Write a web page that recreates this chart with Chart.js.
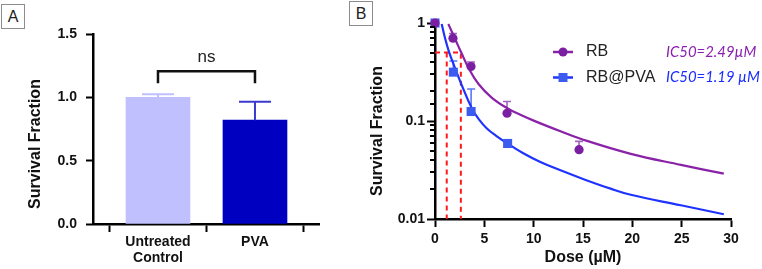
<!DOCTYPE html>
<html><head><meta charset="utf-8">
<script src="https://cdn.jsdelivr.net/npm/chart.js@4.4.1/dist/chart.umd.min.js"></script>
<style>
html,body{margin:0;padding:0;background:#fff;width:762px;height:269px;overflow:hidden;}
#wa{position:absolute;left:0;top:0;width:330px;height:269px;}
#wb{position:absolute;left:330px;top:0;width:432px;height:269px;}
.box{position:absolute;width:22px;height:23px;border:1px solid #8c8c8c;font:16px "Liberation Sans",Arial,sans-serif;color:#222;text-align:center;line-height:23px;background:#fff;}
</style></head><body>
<div id="wa"><canvas id="ca"></canvas></div>
<div id="wb"><canvas id="cb"></canvas></div>
<div class="box" style="left:1px;top:4px;">A</div>
<div class="box" style="left:349px;top:1px;">B</div>
<script>
// ---------- Panel A data ----------
const groups = ['Untreated Control', 'PVA'];
const groupMeans = [1.0, 0.82];
const groupErrors = [0.025, 0.145];
const yTicksA = [0, 0.5, 1.0, 1.5];
const sigText = 'ns';
const sigLevel = 1.205;

// ---------- Panel B data ----------
const rbDose = [0, 1.82, 3.65, 7.3, 14.6];
const rbSurvival = [1, 0.70, 0.36, 0.12, 0.051];
const rbError = [0, 0.08, 0.04, 0.038, 0.011];
const pvaDose = [0, 1.86, 3.66, 7.36];
const pvaSurvival = [1, 0.315, 0.125, 0.059];
const pvaError = [0, 0.095, 0.087, 0];
const rbFitDose = [1.35, 1.73, 2.14, 2.65, 3.39, 4.41, 5.77, 7.46, 8.65, 10.0, 12.72, 14.75, 19.84, 24.92, 29.27];
const rbFit =     [0.977, 0.804, 0.651, 0.502, 0.349, 0.2385, 0.1725, 0.1325, 0.1157, 0.1009, 0.0785, 0.0658, 0.0462, 0.0357, 0.029];
const pvaFitDose = [0.68, 1.02, 1.42, 2.04, 2.72, 3.73, 4.45, 5.26, 6.2, 7.36, 8.9, 10.68, 12.72, 15.2, 17.8, 19.84, 24.92, 29.27];
const pvaFit =     [0.977, 0.698, 0.508, 0.345, 0.2313, 0.1348, 0.104, 0.0839, 0.0706, 0.0588, 0.0472, 0.0382, 0.0314, 0.0252, 0.0204, 0.01766, 0.0138, 0.01117];
const ic50Lines = [1.19, 2.62];
const halfLevel = 0.5;
const seriesNames = ['RB', 'RB@PVA'];
const ic50Labels = ['IC50=2.49µM', 'IC50=1.19 µM'];
const xTicksB = [0, 5, 10, 15, 20, 25, 30];
const yTicksB = [0.01, 0.1, 1];

const FAM = '"Liberation Sans", Arial, sans-serif';
const PURPLE = '#7b1fa2', PURPLE_LINE = '#8a22a8', PURPLE_ERR = '#a064c0';
const BLUE = '#3c5cf0', BLUE_LINE = '#1f33ff', BLUE_ERR = '#5a78f5';

function yTitlePlugin(text, dx, dy) {
  return { id: 'ytitle', afterDraw(chart) {
    const {ctx, chartArea: a} = chart;
    ctx.save();
    ctx.translate(a.left - dx, (a.top + a.bottom) / 2 + dy);
    ctx.rotate(-Math.PI / 2);
    ctx.font = 'bold 16px ' + FAM;
    ctx.fillStyle = '#111';
    ctx.textAlign = 'center';
    ctx.textBaseline = 'middle';
    ctx.fillText(text, 0, 0);
    ctx.restore();
  }};
}

// ---------- Chart A ----------
const errA = { id: 'errA', afterDatasetsDraw(chart) {
  const {ctx, scales: {x, y}} = chart;
  const cols = ['#c0c0ff', '#3a3ad0'];
  ctx.save();
  ctx.lineWidth = 2;
  groupMeans.forEach((m, i) => {
    const px = x.getPixelForValue(i);
    const y0 = y.getPixelForValue(m), y1 = y.getPixelForValue(m + groupErrors[i]);
    ctx.strokeStyle = cols[i];
    ctx.beginPath();
    ctx.moveTo(px, y0); ctx.lineTo(px, y1);
    ctx.moveTo(px - 16, y1); ctx.lineTo(px + 16, y1);
    ctx.stroke();
  });
  ctx.restore();
}};
const bracket = { id: 'bracket', afterDraw(chart) {
  const {ctx, scales: {x, y}} = chart;
  const x0 = x.getPixelForValue(0), x1 = x.getPixelForValue(1);
  const yb = y.getPixelForValue(sigLevel);
  ctx.save();
  ctx.strokeStyle = '#111'; ctx.lineWidth = 2.5;
  ctx.beginPath();
  ctx.moveTo(x0, yb + 12); ctx.lineTo(x0, yb); ctx.lineTo(x1, yb); ctx.lineTo(x1, yb + 12);
  ctx.stroke();
  ctx.font = '17px ' + FAM; ctx.fillStyle = '#222';
  ctx.textAlign = 'center'; ctx.textBaseline = 'middle';
  ctx.fillText(sigText, (x0 + x1) / 2, yb - 14);
  ctx.restore();
}};

new Chart(document.getElementById('ca'), {
  type: 'bar',
  data: { datasets: [{
    data: groups.map((g, i) => ({x: i, y: groupMeans[i]})),
    backgroundColor: ['#c0c0ff', '#0000c0'],
    barThickness: 64, borderWidth: 0
  }]},
  options: {
    responsive: true, maintainAspectRatio: false, animation: false,
    layout: { padding: { top: 34, right: 11, left: 0, bottom: 0 } },
    plugins: { legend: { display: false }, tooltip: { enabled: false } },
    scales: {
      x: {
        type: 'linear', min: -0.67, max: 1.66, offset: false,
        afterBuildTicks: s => { s.ticks = groups.map((g, i) => ({value: i})); },
        afterFit: s => { s.height = 45; },
        grid: { drawOnChartArea: false, tickLength: 8, tickColor: '#000', tickWidth: 2 },
        border: { color: '#000', width: 2.5 },
        ticks: { autoSkip: false, maxRotation: 0, color: '#111', padding: 2,
          font: { family: FAM, size: 14, weight: 'bold', lineHeight: 1.15 },
          callback: v => groups[v] !== undefined ? groups[v].split(' ') : '' }
      },
      y: {
        min: 0, max: 1.5,
        afterBuildTicks: s => { s.ticks = yTicksA.map(v => ({value: v})); },
        afterFit: s => { s.width = 93; },
        grid: { drawOnChartArea: false, tickLength: 7, tickColor: '#000', tickWidth: 2 },
        border: { color: '#000', width: 2.5 },
        ticks: { padding: 9, color: '#111', font: { family: FAM, size: 14, weight: 'bold' },
          callback: v => Number(v).toFixed(1) }
      }
    }
  },
  plugins: [errA, bracket, yTitlePlugin('Survival Fraction', 57, 15)]
});

// ---------- Chart B ----------
const isMajor = v => yTicksB.some(t => Math.abs(Math.log10(v) - Math.log10(t)) < 1e-6);
const errB = { id: 'errB', beforeDatasetsDraw(chart) {
  const {ctx, scales: {x, y}} = chart;
  const sets = [[rbDose, rbSurvival, rbError, PURPLE_ERR], [pvaDose, pvaSurvival, pvaError, BLUE_ERR]];
  ctx.save(); ctx.lineWidth = 1.6;
  sets.forEach(([xs, ys, es, col]) => {
    ctx.strokeStyle = col;
    xs.forEach((d, i) => {
      if (!es[i]) return;
      const px = x.getPixelForValue(d);
      const y0 = y.getPixelForValue(ys[i]), y1 = y.getPixelForValue(ys[i] + es[i]);
      ctx.beginPath();
      ctx.moveTo(px, y0); ctx.lineTo(px, y1);
      ctx.moveTo(px - 4, y1); ctx.lineTo(px + 4, y1);
      ctx.stroke();
    });
  });
  ctx.restore();
}};
const minorTicks = { id: 'minorTicks', afterDraw(chart) {
  const {ctx, scales: {y}} = chart;
  ctx.save(); ctx.strokeStyle = '#000'; ctx.lineWidth = 2;
  y.ticks.forEach(t => {
    if (isMajor(t.value)) return;
    const py = Math.round(y.getPixelForValue(t.value));
    ctx.beginPath(); ctx.moveTo(y.right - 5, py); ctx.lineTo(y.right, py); ctx.stroke();
  });
  ctx.restore();
}};
const legendB = { id: 'legendB', afterDraw(chart) {
  const {ctx, chartArea: a} = chart;
  const items = [[PURPLE_LINE, PURPLE, 'circle'], [BLUE_LINE, BLUE, 'rect']];
  ctx.save();
  const icFam = 'Lato, "Open Sans", sans-serif';
  ctx.font = 'italic 16px ' + icFam;
  const wMax = Math.max(...ic50Labels.map(s => ctx.measureText(s).width));
  const icSize = Math.min(16, 16 * 94 / wMax);
  items.forEach(([lc, mc, shape], i) => {
    const yy = a.top + 29 + i * 25.5;
    const lx = a.left + 118;
    ctx.strokeStyle = lc; ctx.lineWidth = 2.5;
    ctx.beginPath(); ctx.moveTo(lx, yy); ctx.lineTo(lx + 20, yy); ctx.stroke();
    ctx.fillStyle = mc;
    ctx.beginPath();
    if (shape === 'circle') ctx.arc(lx + 10, yy, 4.5, 0, Math.PI * 2); else ctx.rect(lx + 5.5, yy - 4.5, 9, 9);
    ctx.fill();
    ctx.fillStyle = '#222'; ctx.font = '16px ' + FAM;
    ctx.textAlign = 'left'; ctx.textBaseline = 'middle';
    ctx.fillText(seriesNames[i], lx + 33, yy);
    ctx.fillStyle = i === 0 ? '#8a1fb0' : '#1a2cff';
    ctx.font = 'italic ' + icSize.toFixed(2) + 'px ' + icFam;
    ctx.fillText(ic50Labels[i], lx + 113, yy);
  });
  ctx.restore();
}};

const pts = (xs, ys) => xs.map((d, i) => ({x: d, y: ys[i]}));
new Chart(document.getElementById('cb'), {
  type: 'scatter',
  data: { datasets: [
    { data: pts(rbDose, rbSurvival), pointStyle: 'circle', pointRadius: 4.6, backgroundColor: PURPLE, borderWidth: 0, showLine: false, clip: false },
    { data: pts(pvaDose, pvaSurvival), pointStyle: 'rect', pointRadius: 6.4, backgroundColor: BLUE, borderWidth: 0, showLine: false, clip: false },
    { data: pts(rbFitDose, rbFit), showLine: true, pointRadius: 0, borderColor: PURPLE_LINE, borderWidth: 2.2, tension: 0.4, fill: false },
    { data: pts(pvaFitDose, pvaFit), showLine: true, pointRadius: 0, borderColor: BLUE_LINE, borderWidth: 2.2, tension: 0.4, fill: false },
    { data: [{x: 0, y: halfLevel}, {x: ic50Lines[1], y: halfLevel}, {x: ic50Lines[1], y: yTicksB[0]}], showLine: true, pointRadius: 0, borderColor: '#ff1a1a', borderWidth: 2, borderDash: [5, 4], fill: false },
    { data: [{x: ic50Lines[0], y: halfLevel}, {x: ic50Lines[0], y: yTicksB[0]}], showLine: true, pointRadius: 0, borderColor: '#ff1a1a', borderWidth: 2, borderDash: [5, 4], fill: false }
  ]},
  options: {
    responsive: true, maintainAspectRatio: false, animation: false,
    layout: { padding: { top: 23, right: 31, left: 0, bottom: 0 } },
    plugins: { legend: { display: false }, tooltip: { enabled: false } },
    scales: {
      x: {
        type: 'linear', min: 0, max: 30,
        afterBuildTicks: s => { s.ticks = xTicksB.map(v => ({value: v})); },
        afterFit: s => { s.height = 50; },
        grid: { drawOnChartArea: false, tickLength: 8, tickColor: '#000', tickWidth: 2 },
        border: { color: '#000', width: 2.5 },
        ticks: { color: '#111', padding: 4, maxRotation: 0, font: { family: FAM, size: 14, weight: 'bold' } },
        title: { display: true, text: 'Dose (µM)', color: '#111', font: { family: FAM, size: 16, weight: 'bold' }, padding: { top: 0, bottom: 2 } }
      },
      y: {
        type: 'logarithmic', min: 0.01, max: 1,
        afterFit: s => { s.width = 105; },
        grid: { drawOnChartArea: false, tickLength: 8, tickWidth: 2,
          tickColor: c => (c.tick && isMajor(c.tick.value)) ? '#000' : 'rgba(0,0,0,0)' },
        border: { color: '#000', width: 2.5 },
        ticks: { autoSkip: false, padding: 2, color: '#111', font: { family: FAM, size: 14, weight: 'bold' },
          callback: v => { const t = yTicksB.find(t => Math.abs(Math.log10(v) - Math.log10(t)) < 1e-6); return t !== undefined ? String(t) : ''; } }
      }
    }
  },
  plugins: [errB, minorTicks, legendB, yTitlePlugin('Survival Fraction', 57, 10)]
});
</script>
</body></html>
